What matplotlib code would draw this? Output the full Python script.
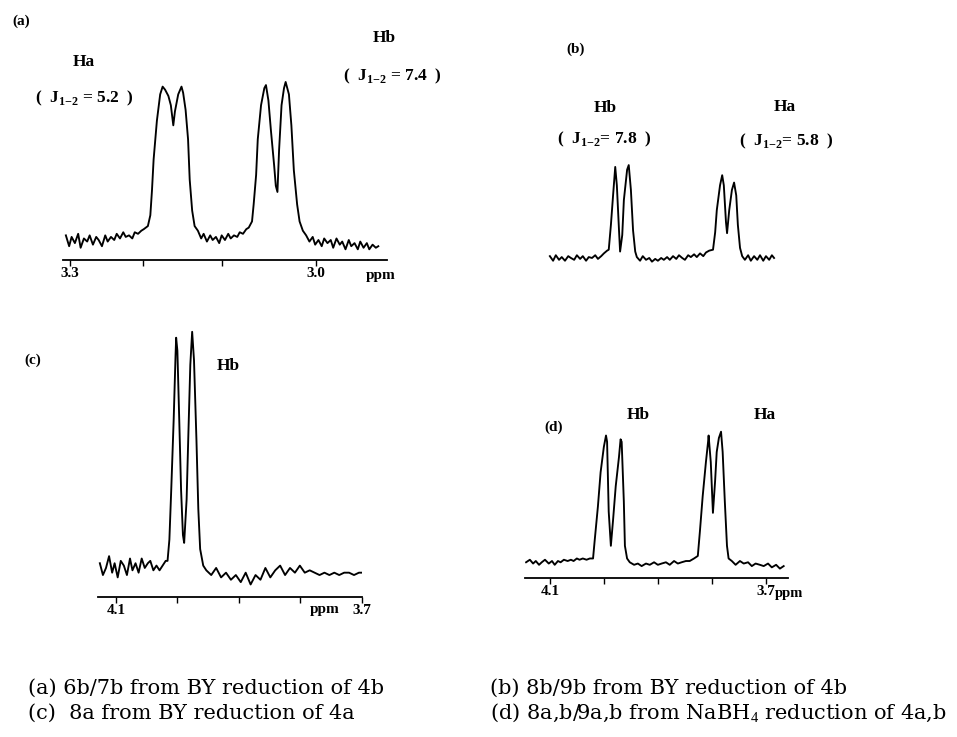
import matplotlib
matplotlib.use("Agg")
import matplotlib.pyplot as plt

plt.rcParams['mathtext.fontset'] = 'custom'
plt.rcParams['mathtext.rm'] = 'Liberation Serif'
plt.rcParams['mathtext.bf'] = 'Liberation Serif:bold'

W, H = 957, 737

# ---- spectrum (a): 6b/7b, chemical shift (ppm) and relative intensity ----
a_ppm = [3.305, 3.301, 3.298, 3.294, 3.290, 3.287, 3.283, 3.279, 3.276, 3.272,
         3.268, 3.265, 3.261, 3.257, 3.254, 3.250, 3.246, 3.243, 3.239, 3.235,
         3.232, 3.228, 3.224, 3.221, 3.217, 3.213, 3.210,
         3.205, 3.202, 3.200, 3.198, 3.194, 3.190, 3.187, 3.184, 3.180, 3.177,
         3.174, 3.172, 3.168, 3.164, 3.162, 3.159, 3.156, 3.154, 3.151, 3.148,
         3.144, 3.140, 3.137, 3.133, 3.129, 3.126, 3.122, 3.118, 3.115, 3.111,
         3.107, 3.104, 3.100, 3.096, 3.093, 3.089, 3.085, 3.082,
         3.078, 3.076, 3.073, 3.071, 3.067, 3.063, 3.061, 3.058, 3.055, 3.051,
         3.049, 3.047, 3.045, 3.042, 3.039, 3.037, 3.033, 3.030, 3.027, 3.023,
         3.020, 3.016,
         3.012, 3.008, 3.004, 3.001, 2.997, 2.993, 2.990, 2.986, 2.982, 2.979,
         2.975, 2.971, 2.968, 2.964, 2.960, 2.957, 2.953, 2.949, 2.946, 2.942,
         2.938, 2.935, 2.931, 2.927, 2.924]
a_int = [0.03, -0.04, 0.02, -0.02, 0.04, -0.05, 0.01, -0.01, 0.03, -0.03,
         0.02, 0.00, -0.04, 0.03, -0.01, 0.02, 0.00, 0.04, 0.01, 0.05,
         0.02, 0.03, 0.01, 0.05, 0.04, 0.06, 0.07,
         0.09, 0.16, 0.32, 0.52, 0.77, 0.94, 0.99, 0.97, 0.93, 0.87,
         0.74, 0.83, 0.94, 0.99, 0.95, 0.84, 0.65, 0.39, 0.19, 0.09,
         0.06, 0.01, 0.04, -0.01, 0.03, 0.00, 0.02, -0.02, 0.03, 0.00,
         0.04, 0.01, 0.03, 0.02, 0.05, 0.04, 0.07, 0.08,
         0.12, 0.23, 0.42, 0.65, 0.87, 0.98, 1.00, 0.90, 0.71, 0.48,
         0.35, 0.31, 0.58, 0.87, 0.98, 1.02, 0.94, 0.74, 0.45, 0.23,
         0.12, 0.06,
         0.03, -0.01, 0.02, -0.03, 0.00, -0.04, 0.01, -0.02, 0.00, -0.05,
         0.01, -0.03, -0.01, -0.06, 0.00, -0.04, -0.02, -0.06, -0.01, -0.05,
         -0.02, -0.06, -0.03, -0.05, -0.04]

# ---- spectrum (b): 8b/9b ----
b_ppm = [4.115, 4.109, 4.104, 4.098, 4.093, 4.087, 4.081, 4.076, 4.070, 4.065,
         4.059, 4.054, 4.048, 4.043, 4.037, 4.031, 4.026, 4.020, 4.015, 4.009,
         4.006, 4.002, 3.998, 3.994, 3.991, 3.987, 3.985, 3.981, 3.978, 3.972,
         3.969, 3.965, 3.961, 3.957, 3.954,
         3.948, 3.943, 3.937, 3.931, 3.926, 3.920, 3.915, 3.909, 3.904, 3.898,
         3.893, 3.887, 3.881, 3.876, 3.870, 3.865, 3.859, 3.854, 3.848, 3.843,
         3.837, 3.831, 3.826, 3.820,
         3.813, 3.809, 3.806, 3.800, 3.796, 3.793, 3.789, 3.787, 3.783, 3.778,
         3.774, 3.770, 3.767, 3.763, 3.759,
         3.754, 3.748, 3.743, 3.737, 3.731, 3.726, 3.720, 3.715, 3.709, 3.704,
         3.700]
b_int = [0.02, -0.03, 0.03, -0.02, 0.01, -0.03, 0.02, 0.00, -0.02, 0.03,
         -0.01, 0.02, -0.03, 0.01, 0.00, 0.03, -0.01, 0.02, 0.05, 0.08,
         0.09, 0.36, 0.68, 0.99, 0.79, 0.30, 0.07, 0.25, 0.63, 0.96,
         1.01, 0.74, 0.30, 0.07, 0.01,
         -0.03, 0.02, -0.02, 0.00, -0.04, -0.01, -0.03, 0.00, -0.02, 0.01,
         -0.02, 0.02, -0.01, 0.03, 0.00, -0.02, 0.03, 0.01, 0.04, 0.01,
         0.05, 0.02, 0.06, 0.08,
         0.09, 0.28, 0.52, 0.79, 0.90, 0.79, 0.39, 0.27, 0.52, 0.74,
         0.82, 0.68, 0.36, 0.11, 0.02,
         -0.02, 0.03, -0.03, 0.02, -0.02, 0.03, -0.03, 0.02, -0.02, 0.03,
         0.00]

# ---- spectrum (c): 8a ----
c_ppm = [4.126, 4.121, 4.116, 4.111, 4.106, 4.102, 4.097, 4.092, 4.087, 4.082,
         4.077, 4.073, 4.068, 4.063, 4.058, 4.053, 4.048, 4.044, 4.039, 4.034,
         4.029, 4.024, 4.019,
         4.016, 4.013, 4.010, 4.006, 4.003, 4.002, 4.000, 3.997, 3.994, 3.991,
         3.989, 3.985, 3.982, 3.979, 3.976, 3.973, 3.969, 3.966, 3.963, 3.958,
         3.953, 3.945, 3.937, 3.929, 3.921, 3.913, 3.905, 3.897, 3.889, 3.881,
         3.873, 3.865, 3.857, 3.849, 3.841, 3.833, 3.825, 3.817, 3.809, 3.801,
         3.793, 3.785, 3.777, 3.769, 3.761, 3.753, 3.745, 3.737, 3.729, 3.721,
         3.713, 3.705, 3.697]
c_int = [0.02, -0.03, 0.00, 0.05, -0.02, 0.02, -0.04, 0.03, 0.01, -0.03,
         0.04, -0.01, 0.02, -0.02, 0.04, 0.00, 0.02, 0.03, -0.01, 0.01,
         -0.01, 0.01, 0.03,
         0.03, 0.12, 0.33, 0.63, 0.90, 0.975, 0.92, 0.63, 0.33, 0.14,
         0.106, 0.29, 0.58, 0.86, 1.00, 0.88, 0.54, 0.25, 0.08, 0.01,
         -0.01, -0.03, 0.00, -0.04, -0.02, -0.05, -0.03, -0.06, -0.02, -0.07,
         -0.03, -0.05, 0.00, -0.04, -0.01, 0.01, -0.03, 0.00, -0.02, 0.01,
         -0.02, -0.01, -0.02, -0.03, -0.02, -0.03, -0.02, -0.03, -0.02, -0.02,
         -0.03, -0.02, -0.02]

# ---- spectrum (d): 8a,b/9a,b ----
d_ppm = [4.144, 4.137, 4.131, 4.126, 4.120, 4.115, 4.109, 4.102, 4.096, 4.091,
         4.085, 4.080, 4.074, 4.067, 4.061, 4.056, 4.050, 4.045, 4.039, 4.032,
         4.026,
         4.020, 4.017, 4.011, 4.006, 4.000, 3.996, 3.994, 3.991, 3.987, 3.983,
         3.978, 3.972, 3.969, 3.967, 3.963, 3.961, 3.957,
         3.952, 3.944, 3.937, 3.930, 3.922, 3.915, 3.907, 3.900, 3.893, 3.885,
         3.878, 3.870, 3.863, 3.856, 3.848, 3.841, 3.833,
         3.826, 3.822, 3.817, 3.811, 3.807, 3.806, 3.802, 3.798, 3.794, 3.791,
         3.787, 3.783, 3.780, 3.776, 3.772, 3.769,
         3.763, 3.756, 3.748, 3.741, 3.733, 3.726, 3.719, 3.711, 3.704, 3.696,
         3.689, 3.681, 3.674, 3.667]
d_int = [0.00, 0.02, -0.01, 0.01, -0.02, 0.00, 0.02, -0.01, 0.01, -0.02,
         0.01, 0.00, 0.02, 0.01, 0.02, 0.01, 0.03, 0.02, 0.03, 0.02,
         0.03,
         0.03, 0.17, 0.44, 0.71, 0.91, 1.00, 0.95, 0.40, 0.13, 0.33,
         0.60, 0.83, 0.97, 0.95, 0.48, 0.13, 0.03,
         0.00, -0.02, -0.01, -0.03, -0.01, -0.02, 0.00, -0.02, -0.01, 0.00,
         -0.02, 0.01, -0.01, 0.00, 0.01, 0.01, 0.03,
         0.05, 0.25, 0.52, 0.79, 0.95, 1.00, 0.79, 0.39, 0.64, 0.87,
         0.98, 1.03, 0.87, 0.48, 0.13, 0.03,
         0.01, -0.02, 0.01, -0.01, 0.00, -0.03, -0.01, -0.02, -0.03, -0.01,
         -0.04, -0.02, -0.05, -0.03]

captions_left = ["(a) 6b/7b from BY reduction of 4b",
                 "(c)  8a from BY reduction of 4a"]
captions_right = ["(b) 8b/9b from BY reduction of 4b",
                  "(d) 8a,b/9a,b from NaBH$_4$ reduction of 4a,b"]

fig = plt.figure(figsize=(W / 100, H / 100), dpi=100)

LAB = dict(family='Liberation Serif', weight='bold', color='black')
LW = 1.35


def add_panel(left, top, right, bottom):
    # panel placed by pixel box of the reference
    return fig.add_axes([left / W, 1 - bottom / H, (right - left) / W, (bottom - top) / H])


def ftext(x, y, s, **kw):
    fig.text(x / W, 1 - y / H, s, ha='center', va='center', **kw)


def style_axis(ax, show_axis=True):
    for side in ['left', 'right', 'top']:
        ax.spines[side].set_visible(False)
    ax.set_yticks([])
    if show_axis:
        ax.spines['bottom'].set_linewidth(1.3)
        ax.tick_params(axis='x', which='both', direction='out', length=4,
                       width=1.0, pad=1, labelsize=11)
        for t in ax.get_xticklabels():
            t.set_fontfamily('Liberation Serif')
            t.set_fontweight('bold')
    else:
        ax.spines['bottom'].set_visible(False)
        ax.set_xticks([])


# (a)
ax = add_panel(63, 75, 387, 260)
ax.plot(a_ppm, a_int, color='black', lw=LW)
ax.set_xlim(3.3085, 2.9134)
ax.set_ylim(-0.129, 1.065)
ax.set_xticks([3.3, 3.211, 3.115, 3.0])
ax.set_xticklabels(['3.3', '', '', '3.0'])
style_axis(ax)

# (b)
ax = add_panel(545, 150, 780, 275)
ax.plot(b_ppm, b_int, color='black', lw=LW)
ax.set_xlim(4.124, 3.689)
ax.set_ylim(-0.185, 1.174)
style_axis(ax, show_axis=False)

# (c)
ax = add_panel(98, 320, 362, 597)
ax.plot(c_ppm, c_int, color='black', lw=LW)
ax.set_xlim(4.129, 3.703)
ax.set_ylim(-0.123, 1.05)
ax.set_xticks([4.1, 4.0, 3.9, 3.8, 3.7])
ax.set_xticklabels(['4.1', '', '', '', '3.7'])
style_axis(ax)

# (d)
ax = add_panel(525, 400, 788, 578)
ax.plot(d_ppm, d_int, color='black', lw=LW)
ax.set_xlim(4.146, 3.659)
ax.set_ylim(-0.124, 1.28)
ax.set_xticks([4.1, 4.0, 3.9, 3.8, 3.7])
ax.set_xticklabels(['4.1', '', '', '', '3.7'])
style_axis(ax)

J = r'$_{\mathbf{1{-}2}}$'

# panel letters and peak labels
ftext(21, 21, '(a)', fontsize=11, **LAB)
ftext(84, 62, 'Ha', fontsize=12.5, **LAB)
ftext(84, 98, '(  J' + J + ' = 5.2  )', fontsize=12.5, **LAB)
ftext(384, 38, 'Hb', fontsize=12.5, **LAB)
ftext(392, 76, '(  J' + J + ' = 7.4  )', fontsize=12.5, **LAB)
ftext(381, 275, 'ppm', fontsize=11, **LAB)

ftext(576, 49, '(b)', fontsize=11, **LAB)
ftext(605, 108, 'Hb', fontsize=12.5, **LAB)
ftext(604, 139, '(  J' + J + '= 7.8  )', fontsize=12.5, **LAB)
ftext(785, 107, 'Ha', fontsize=12.5, **LAB)
ftext(786, 141, '(  J' + J + '= 5.8  )', fontsize=12.5, **LAB)

ftext(33, 360, '(c)', fontsize=11, **LAB)
ftext(228, 366, 'Hb', fontsize=12.5, **LAB)
ftext(325, 609, 'ppm', fontsize=11, **LAB)

ftext(554, 427, '(d)', fontsize=11, **LAB)
ftext(638, 415, 'Hb', fontsize=12.5, **LAB)
ftext(765, 415, 'Ha', fontsize=12.5, **LAB)
ftext(789, 594, 'ppm', fontsize=10.5, **LAB)

# captions
for i, (l, r) in enumerate(zip(captions_left, captions_right)):
    y = 1 - (688 + 25 * i) / H
    fig.text(28 / W, y, l, ha='left', va='center', family='DejaVu Serif', fontsize=15)
    fig.text(490 / W, y, r, ha='left', va='center', family='DejaVu Serif', fontsize=15)

fig.savefig('out.png', dpi=100, facecolor='white')
